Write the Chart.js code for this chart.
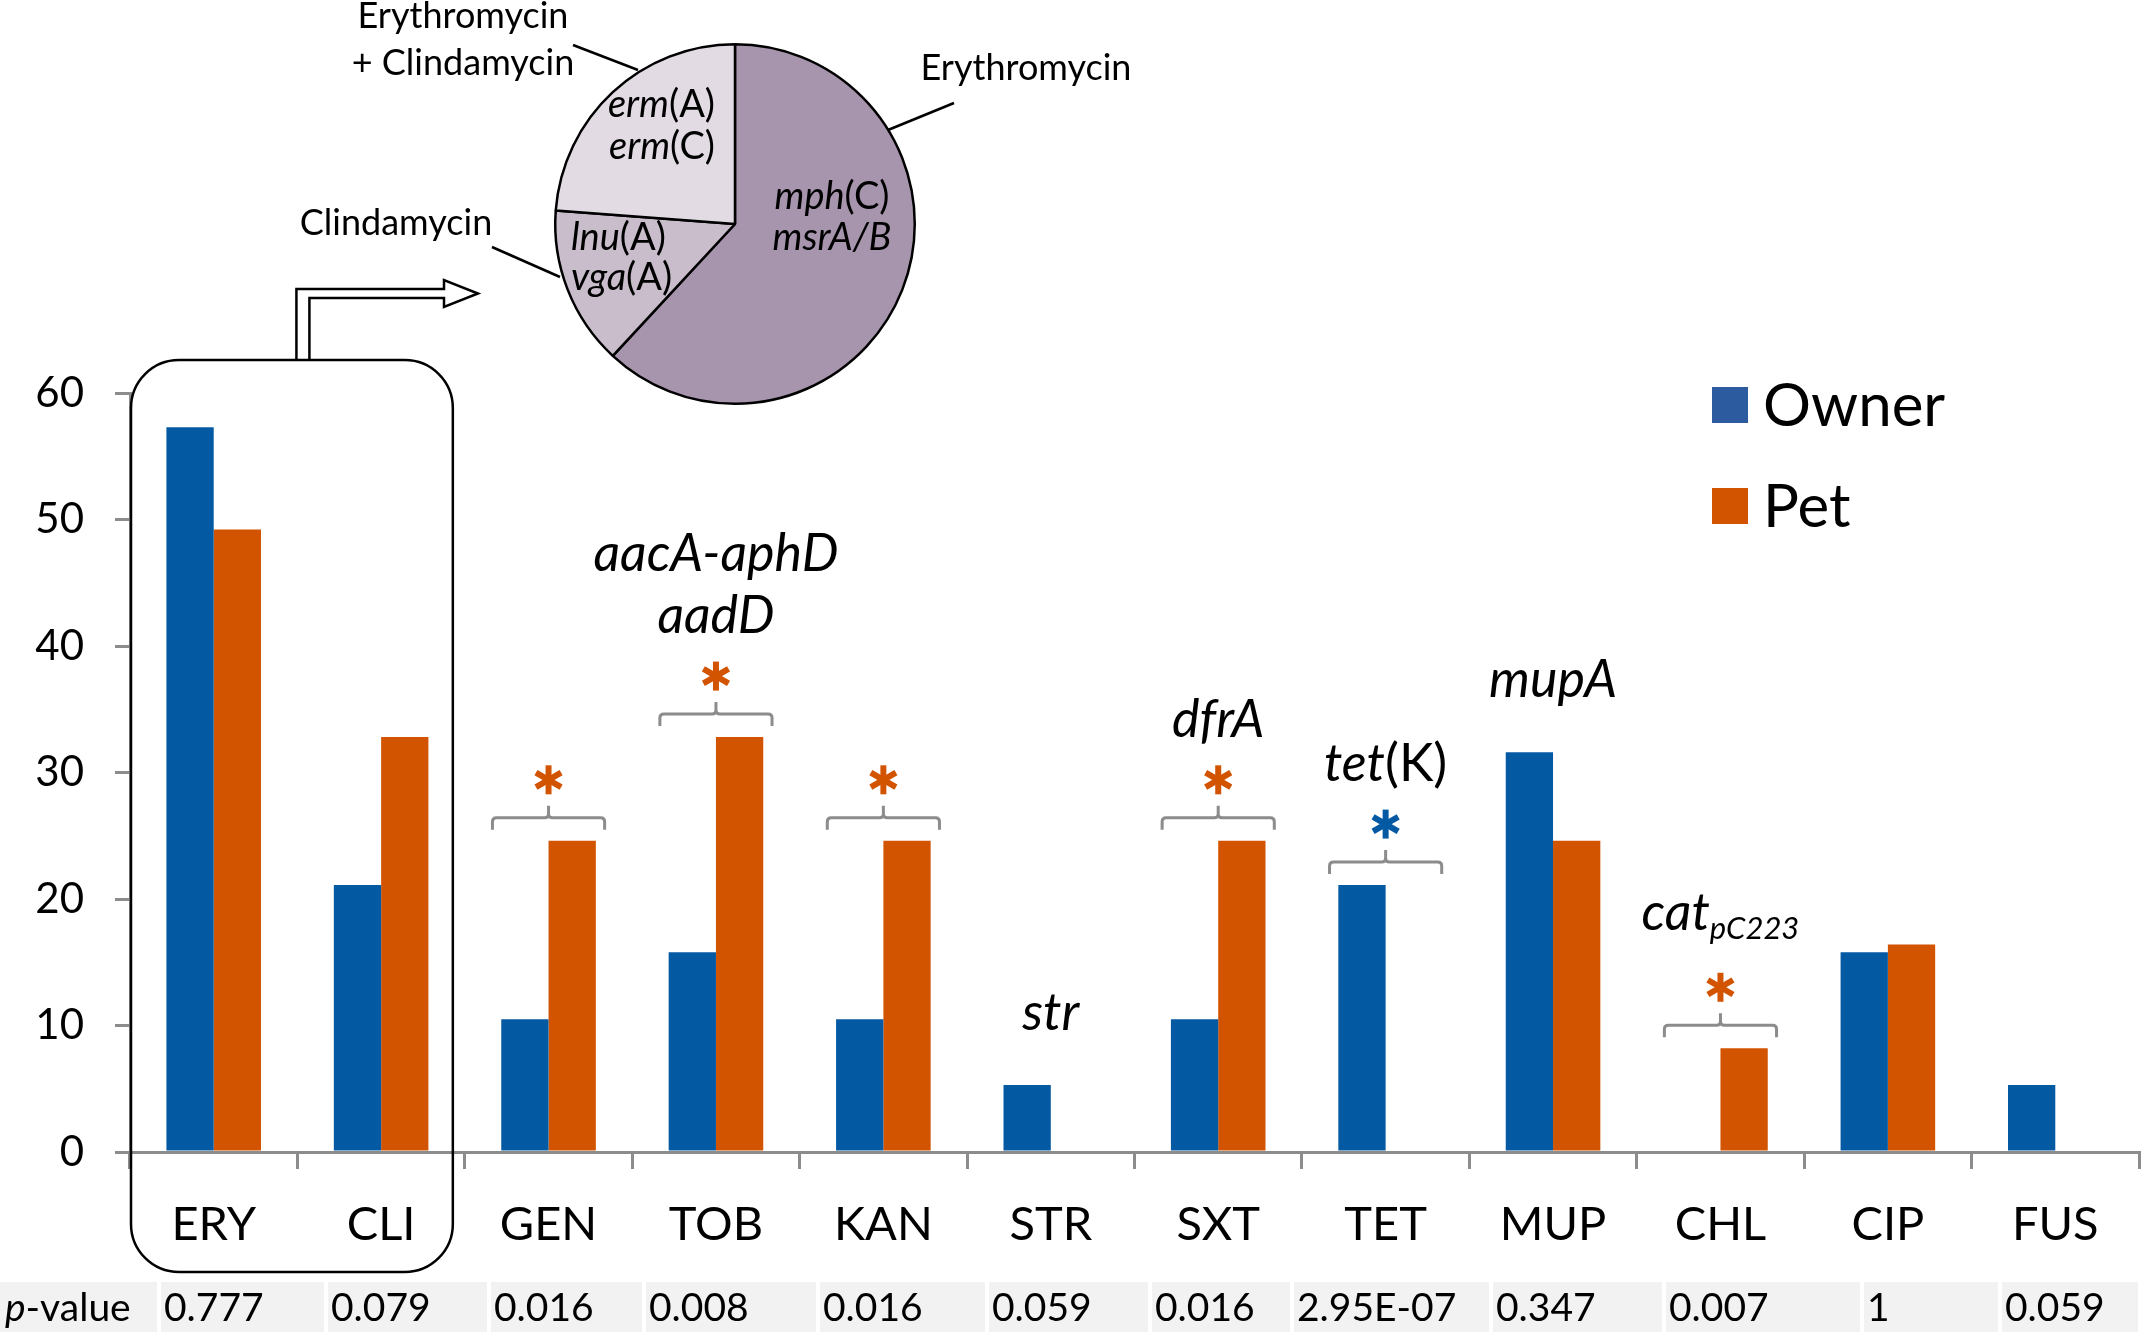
<!DOCTYPE html>
<html>
<head>
<meta charset="utf-8">
<script src="https://cdn.jsdelivr.net/npm/chart.js@4.4.1/dist/chart.umd.min.js"></script>
<style>
  body { margin: 0; background: #fff; }
  #wrap { position: relative; width: 2141px; height: 1337px; }
  canvas { position: absolute; left: 0; top: 0; }
</style>
</head>
<body>
<div id="wrap">
  <canvas id="chart" width="2141" height="1337"></canvas>
  <canvas id="pie" width="2141" height="1337"></canvas>
</div>
<script>
// bar data (% resistant isolates)
const categories = ['ERY', 'CLI', 'GEN', 'TOB', 'KAN', 'STR', 'SXT', 'TET', 'MUP', 'CHL', 'CIP', 'FUS'];
const owner = [57.3, 21.1, 10.5, 15.8, 10.5, 5.3, 10.5, 21.1, 31.6, 0, 15.8, 5.3];
const pet = [49.2, 32.8, 24.6, 32.8, 24.6, 0, 24.6, 0, 24.6, 8.2, 16.4, 0];
const yTicks = [0, 10, 20, 30, 40, 50, 60];
const pValues = ['0.777', '0.079', '0.016', '0.008', '0.016', '0.059', '0.016', '2.95E-07', '0.347', '0.007', '1', '0.059'];
// which group is significantly higher (null = not significant)
const significant = [null, null, 'Pet', 'Pet', 'Pet', null, 'Pet', 'Owner', null, 'Pet', null, null];
// {..} italic, [..] italic subscript, | new line
const genes = ['', '', '', '{aacA-aphD}|{aadD}', '', '{str}', '{dfrA}', '{tet}(K)', '{mupA}', '{cat}[pC223]', '', ''];

// pie data
const pieLabels = ['Erythromycin', 'Clindamycin', 'Erythromycin|+ Clindamycin'];
const pieValues = [61.9, 14.3, 23.8];
const pieGenes = ['{mph}(C)|{msrA/B}', '{lnu}(A)|{vga}(A)', '{erm}(A)|{erm}(C)'];

const OWNER = '#0459a3', PET = '#d25400';
const FONT = 'Lato';

function parse(s) {
  const parts = [];
  const re = /\{([^}]*)\}|\[([^\]]*)\]|([^{\[]+)/g;
  let m;
  while ((m = re.exec(s))) {
    if (m[1] !== undefined) parts.push({ t: m[1], it: true });
    else if (m[2] !== undefined) parts.push({ t: m[2], it: true, sub: true });
    else parts.push({ t: m[3] });
  }
  return parts;
}

function drawRich(ctx, s, x, y, size, align) {
  const parts = parse(s);
  const font = p => (p.it ? 'italic ' : '') + Math.round(p.sub ? size * 0.6 : size) + 'px ' + FONT;
  let w = 0;
  parts.forEach(p => { ctx.font = font(p); p.w = ctx.measureText(p.t).width; w += p.w; });
  let cx = align === 'center' ? x - w / 2 : align === 'right' ? x - w : x;
  ctx.textAlign = 'left';
  ctx.textBaseline = 'middle';
  ctx.fillStyle = '#000';
  parts.forEach(p => {
    ctx.font = font(p);
    ctx.fillText(p.t, cx, p.sub ? y + size * 0.3 : y);
    cx += p.w;
  });
  return parts.some(p => p.sub);
}

function asterisk(ctx, x, y, color) {
  ctx.save();
  ctx.strokeStyle = color;
  ctx.lineWidth = 6;
  for (let k = 0; k < 3; k++) {
    const a = Math.PI / 2 + k * Math.PI / 3;
    ctx.beginPath();
    ctx.moveTo(x + Math.cos(a) * 14.5, y - Math.sin(a) * 14.5);
    ctx.lineTo(x - Math.cos(a) * 14.5, y + Math.sin(a) * 14.5);
    ctx.stroke();
  }
  ctx.restore();
}

function bracket(ctx, cx, by, hw) {
  ctx.save();
  ctx.strokeStyle = '#8c8c8c';
  ctx.lineWidth = 3;
  ctx.beginPath();
  ctx.moveTo(cx - hw, by + 12);
  ctx.lineTo(cx - hw, by + 4);
  ctx.quadraticCurveTo(cx - hw, by, cx - hw + 4, by);
  ctx.lineTo(cx - 4, by);
  ctx.quadraticCurveTo(cx, by, cx, by - 4);
  ctx.lineTo(cx, by - 12);
  ctx.moveTo(cx, by - 4);
  ctx.quadraticCurveTo(cx, by, cx + 4, by);
  ctx.lineTo(cx + hw - 4, by);
  ctx.quadraticCurveTo(cx + hw, by, cx + hw, by + 4);
  ctx.lineTo(cx + hw, by + 12);
  ctx.stroke();
  ctx.restore();
}

const extras = {
  id: 'extras',
  afterDraw(chart) {
    const { ctx, scales: { x, y } } = chart;
    const cw = x.getPixelForValue(1) - x.getPixelForValue(0);

    // significance brackets and gene names
    categories.forEach((c, i) => {
      const cx = x.getPixelForValue(i);
      const top = y.getPixelForValue(Math.max(owner[i], pet[i]));
      const lines = genes[i] ? genes[i].split('|') : [];
      let base;
      if (significant[i]) {
        const by = top - 23;
        bracket(ctx, cx, by, cw * 0.335);
        asterisk(ctx, cx, by - 38, significant[i] === 'Pet' ? PET : OWNER);
        base = by - 98;
      } else {
        base = top - 72;
      }
      lines.reverse().forEach((l, k) => {
        const sub = parse(l).some(p => p.sub);
        drawRich(ctx, l, cx, base - k * 62 - (sub ? 14 : 0), 52, 'center');
      });
    });

    // rounded box round ERY and CLI
    const left = x.getPixelForValue(0) - cw / 2 + 1;
    const right = x.getPixelForValue(1) + cw / 2 - 12;
    const top = y.getPixelForValue(60) - 33;
    const bottom = 1272;
    ctx.save();
    ctx.strokeStyle = '#000';
    ctx.lineWidth = 2.5;
    ctx.beginPath();
    ctx.roundRect(left, top, right - left, bottom - top, 48);
    ctx.stroke();

    // hollow arrow to the pie
    const ax = (left + right) / 2 + 11;
    ctx.beginPath();
    ctx.moveTo(ax - 6.5, top);
    ctx.lineTo(ax - 6.5, top - 71);
    ctx.lineTo(444, top - 71);
    ctx.lineTo(444, top - 80);
    ctx.lineTo(478, top - 66.5);
    ctx.lineTo(444, top - 53);
    ctx.lineTo(444, top - 62);
    ctx.lineTo(ax + 6.5, top - 62);
    ctx.lineTo(ax + 6.5, top);
    ctx.stroke();
    ctx.restore();

    // legend
    [['Owner', '#2d5b9f', 405], ['Pet', '#d35400', 506]].forEach(([name, col, ly]) => {
      ctx.fillStyle = col;
      ctx.fillRect(1712, ly - 18, 36, 36);
      ctx.fillStyle = '#000';
      ctx.font = '60px ' + FONT;
      ctx.textAlign = 'left';
      ctx.textBaseline = 'middle';
      ctx.fillText(name, 1763, ly + 2);
    });

    // p-value row
    const cellStarts = [0, 161, 328, 491, 646, 820, 989, 1152, 1294, 1493, 1666, 1864, 2002];
    const texts = ['{p}-value'].concat(pValues);
    cellStarts.forEach((sx, k) => {
      const ex = k < cellStarts.length - 1 ? cellStarts[k + 1] - 4 : 2138;
      ctx.fillStyle = '#f2f2f2';
      ctx.fillRect(sx, 1282, ex - sx, 50);
      drawRich(ctx, texts[k], sx + (k === 0 ? 5 : 3), 1308, 39, 'left');
    });
  }
};

new Chart(document.getElementById('chart'), {
  type: 'bar',
  data: {
    labels: categories,
    datasets: [
      { label: 'Owner', data: owner, backgroundColor: OWNER },
      { label: 'Pet', data: pet, backgroundColor: PET }
    ]
  },
  options: {
    responsive: false,
    animation: false,
    layout: { padding: { top: 393, right: 2, left: 0, bottom: 0 } },
    datasets: { bar: { categoryPercentage: 0.565, barPercentage: 1 } },
    scales: {
      x: {
        grid: { offset: true, drawOnChartArea: false, tickLength: 17, color: '#8c8c8c', lineWidth: 3 },
        border: { color: '#8c8c8c', width: 3 },
        ticks: { color: '#000', font: { family: FONT, size: 47 }, padding: 28 },
        afterFit(s) { s.height = 185; }
      },
      y: {
        min: 0,
        max: 60,
        afterBuildTicks(s) { s.ticks = yTicks.map(v => ({ value: v })); },
        grid: { drawOnChartArea: false, tickLength: 15, color: '#8c8c8c', lineWidth: 3 },
        border: { color: '#8c8c8c', width: 3 },
        ticks: { color: '#000', font: { family: FONT, size: 42 }, padding: 31 },
        afterFit(s) { s.width = 130; }
      }
    },
    plugins: { legend: { display: false }, tooltip: { enabled: false } }
  },
  plugins: [extras]
});

const pieText = {
  id: 'pieText',
  afterDraw(chart) {
    const ctx = chart.ctx;
    const arc = chart.getDatasetMeta(0).data[0];
    const cx = arc.x, cy = arc.y;
    const size = 38;

    // genes inside the slices
    const g = pieGenes.map(s => s.split('|'));
    drawRich(ctx, g[0][0], cx + 97, cy - 27, size, 'center');
    drawRich(ctx, g[0][1], cx + 97, cy + 14, size, 'center');
    drawRich(ctx, g[1][0], cx - 164, cy + 14, size, 'left');
    drawRich(ctx, g[1][1], cx - 164, cy + 54, size, 'left');
    drawRich(ctx, g[2][0], cx - 20, cy - 119, size, 'right');
    drawRich(ctx, g[2][1], cx - 20, cy - 77, size, 'right');

    // callout labels
    const both = pieLabels[2].split('|');
    drawRich(ctx, both[0], cx - 272, cy - 208, 36, 'center');
    drawRich(ctx, both[1], cx - 272, cy - 161, 36, 'center');
    drawRich(ctx, pieLabels[0], cx + 291, cy - 156, 36, 'center');
    drawRich(ctx, pieLabels[1], cx - 339, cy - 1, 36, 'center');

    ctx.save();
    ctx.strokeStyle = '#000';
    ctx.lineWidth = 2.5;
    [[-162, -179, -97, -154], [219, -121, 153, -94], [-243, 23, -175, 53]].forEach(([x1, y1, x2, y2]) => {
      ctx.beginPath();
      ctx.moveTo(cx + x1, cy + y1);
      ctx.lineTo(cx + x2, cy + y2);
      ctx.stroke();
    });
    ctx.restore();
  }
};

new Chart(document.getElementById('pie'), {
  type: 'pie',
  data: {
    labels: pieLabels,
    datasets: [{
      data: pieValues,
      backgroundColor: ['#a794ad', '#c9bdcc', '#e2dbe4'],
      borderColor: '#000',
      borderWidth: 2.5
    }]
  },
  options: {
    responsive: false,
    animation: false,
    layout: { padding: { left: 554, right: 1225, top: 43, bottom: 932 } },
    plugins: { legend: { display: false }, tooltip: { enabled: false } }
  },
  plugins: [pieText]
});
</script>
</body>
</html>
